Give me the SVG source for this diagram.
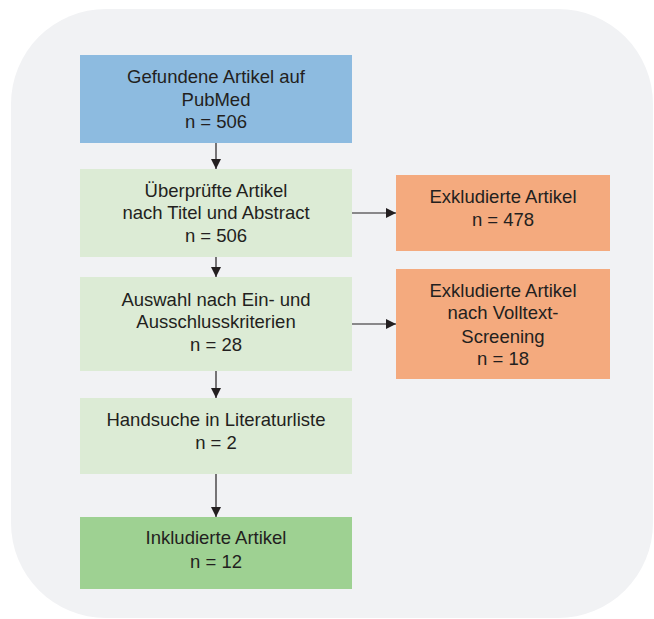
<svg xmlns="http://www.w3.org/2000/svg" width="654" height="619" viewBox="0 0 654 619">
<style>
  text { font-family: "Liberation Sans", Arial, sans-serif; font-size: 18.5px; fill: #231f20; text-anchor: middle; }
  .conn line { stroke: #231f20; stroke-width: 1.2; fill: none; }
</style>
<defs>
  <marker id="ah" viewBox="0 0 10 10" refX="10" refY="5" markerWidth="10" markerHeight="10" markerUnits="userSpaceOnUse" orient="auto">
    <path d="M0,0 L10,5 L0,10 Z" fill="#231f20"/>
  </marker>
</defs>
<rect x="0" y="0" width="654" height="619" fill="#ffffff"/>
<rect x="11" y="9" width="642" height="609" rx="95" ry="95" fill="#f1f2f4"/>

<g id="n1">
  <rect x="80" y="55" width="272" height="88" fill="#8dbbe0"/>
  <text x="216" y="83">Gefundene Artikel auf</text>
  <text x="216" y="106">PubMed</text>
  <text x="216" y="128">n = 506</text>
</g>
<g id="n2">
  <rect x="80" y="169" width="272" height="88" fill="#dcebd5"/>
  <text x="216" y="197">Überprüfte Artikel</text>
  <text x="216" y="219">nach Titel und Abstract</text>
  <text x="216" y="242">n = 506</text>
</g>
<g id="n3">
  <rect x="396" y="175" width="214" height="76" fill="#f4aa7e"/>
  <text x="503" y="203">Exkludierte Artikel</text>
  <text x="503" y="226">n = 478</text>
</g>
<g id="n4">
  <rect x="80" y="277" width="272" height="94" fill="#dcebd5"/>
  <text x="216" y="306">Auswahl nach Ein- und</text>
  <text x="216" y="328">Ausschlusskriterien</text>
  <text x="216" y="351">n = 28</text>
</g>
<g id="n5">
  <rect x="396" y="269" width="214" height="110" fill="#f4aa7e"/>
  <text x="503" y="297">Exkludierte Artikel</text>
  <text x="503" y="319">nach Volltext-</text>
  <text x="503" y="343">Screening</text>
  <text x="503" y="365">n = 18</text>
</g>
<g id="n6">
  <rect x="80" y="398" width="272" height="76" fill="#dcebd5"/>
  <text x="216" y="426">Handsuche in Literaturliste</text>
  <text x="216" y="449">n = 2</text>
</g>
<g id="n7">
  <rect x="80" y="517" width="272" height="72" fill="#9ed192"/>
  <text x="216" y="544">Inkludierte Artikel</text>
  <text x="216" y="568">n = 12</text>
</g>

<g id="connectors" class="conn">
  <line x1="216" y1="143" x2="216" y2="169" marker-end="url(#ah)"/>
  <line x1="216" y1="257" x2="216" y2="277" marker-end="url(#ah)"/>
  <line x1="216" y1="371" x2="216" y2="398" marker-end="url(#ah)"/>
  <line x1="216" y1="474" x2="216" y2="517" marker-end="url(#ah)"/>
  <line x1="352" y1="213" x2="396" y2="213" marker-end="url(#ah)"/>
  <line x1="352" y1="324" x2="396" y2="324" marker-end="url(#ah)"/>
</g>
</svg>
